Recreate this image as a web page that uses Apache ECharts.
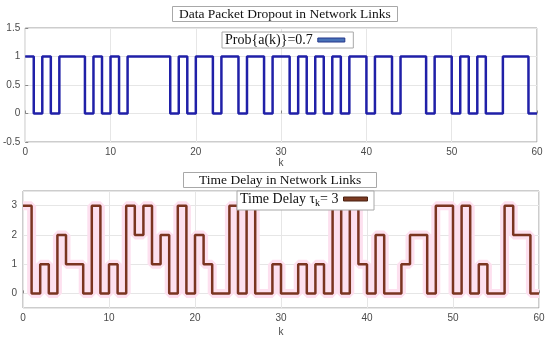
<!DOCTYPE html>
<html>
<head>
<meta charset="utf-8">
<script src="https://cdn.jsdelivr.net/npm/echarts@6/dist/echarts.min.js"></script>
<style>
html,body{margin:0;padding:0;background:#fff;}
#chart{width:550px;height:339px;}
</style>
</head>
<body>
<div id="chart"></div>
<script>
// ---- data (k = 0..60, stairs held from k to k+1) ----
const kValues = [0,1,2,3,4,5,6,7,8,9,10,11,12,13,14,15,16,17,18,19,20,21,22,23,24,25,26,27,28,29,30,31,32,33,34,35,36,37,38,39,40,41,42,43,44,45,46,47,48,49,50,51,52,53,54,55,56,57,58,59,60];
const dropout = [1,0,1,0,1,1,1,0,1,0,
                 1,0,1,1,1,1,1,0,1,0,
                 1,1,0,1,1,0,1,1,0,1,
                 1,0,1,0,1,0,1,0,1,1,
                 0,1,1,0,1,1,1,0,1,1,
                 0,1,0,1,0,0,1,1,1,0,
                 0];
const delay = [3,0,1,0,2,1,1,0,3,0,
               1,0,3,2,3,1,2,0,3,0,
               2,1,0,0,3,0,3,0,0,1,
               0,0,1,0,1,0,3,0,3,1,
               0,2,0,0,1,2,2,0,3,3,
               0,3,0,1,0,0,3,2,2,0,
               0];
const xTicks = {min: 0, max: 60, interval: 10};
const topTitle = 'Data Packet Dropout in Network Links';
const bottomTitle = 'Time Delay in Network Links';
const topLegend = 'Prob{a(k)}=0.7';

const pairs = (ys) => kValues.map((k, i) => [k, ys[i]]);

const chart = echarts.init(document.getElementById('chart'), null, {renderer: 'canvas'});
const labelStyle = {color: '#4a4a4a', fontSize: 10, fontFamily: 'Liberation Sans, Arial, sans-serif'};
const gridLine = {show: true, lineStyle: {color: '#e6e6e6', width: 1}};
const serif = 'Liberation Serif, Times New Roman, serif';

function xAxis(gi, gap) {
  return {
    type: 'value', gridIndex: gi, min: xTicks.min, max: xTicks.max, interval: xTicks.interval,
    axisLine: {show: false}, axisTick: {show: true, inside: true, length: 3, lineStyle: {color: '#888'}},
    axisLabel: Object.assign({margin: 5}, labelStyle),
    splitLine: gridLine,
    name: 'k', nameLocation: 'middle', nameGap: gap,
    nameTextStyle: {color: '#4a4a4a', fontSize: 10, fontFamily: 'Liberation Sans, Arial, sans-serif'}
  };
}

const option = {
  backgroundColor: '#fff',
  animation: false,
  title: [
    {text: topTitle, left: 172, top: 6, padding: [1, 7, 1, 7], borderWidth: 1, borderColor: '#a8a8a8', backgroundColor: '#fff',
     textStyle: {fontFamily: serif, fontSize: 13.5, fontWeight: 'normal', color: '#111'}},
    {text: bottomTitle, left: 183, top: 172, padding: [1, 16, 1, 16], borderWidth: 1, borderColor: '#a8a8a8', backgroundColor: '#fff',
     textStyle: {fontFamily: serif, fontSize: 13.5, fontWeight: 'normal', color: '#111'}}
  ],
  legend: [
    {data: [{name: 'dropout', icon: 'rect', itemStyle: {color: '#4872b8', borderColor: '#24368a', borderWidth: 1}}],
     left: 222, top: 32, align: 'right', itemWidth: 27, itemHeight: 4, padding: [1, 8, 1, 3],
     borderWidth: 1, borderColor: '#a8a8a8', backgroundColor: '#fff', selectedMode: false,
     formatter: () => topLegend,
     textStyle: {fontFamily: serif, fontSize: 14, color: '#111'}},
    {data: [{name: 'delay', icon: 'rect', itemStyle: {color: '#7a3a22', borderColor: '#4a2010', borderWidth: 1}}],
     left: 237, top: 191, align: 'right', itemWidth: 24, itemHeight: 4, padding: [1, 6, 2, 3],
     borderWidth: 1, borderColor: '#a8a8a8', backgroundColor: '#fff', selectedMode: false,
     formatter: () => 'Time Delay τ{s|k}= 3',
     textStyle: {fontFamily: serif, fontSize: 14, color: '#111',
       rich: {s: {fontFamily: serif, fontSize: 10, color: '#111', padding: [8, 0, 0, 0]}}}}
  ],
  grid: [
    {left: 24, right: 13, top: 28, height: 114, show: true, borderColor: '#9a9a9a', borderWidth: 1, backgroundColor: 'transparent'},
    {left: 23, right: 11, top: 191, height: 117, show: true, borderColor: '#9a9a9a', borderWidth: 1, backgroundColor: 'transparent'}
  ],
  xAxis: [xAxis(0, 16), xAxis(1, 19)],
  yAxis: [
    {type: 'value', gridIndex: 0, min: -0.5, max: 1.5, interval: 0.5,
     axisLine: {show: false}, axisTick: {show: true, inside: true, length: 3, lineStyle: {color: '#888'}},
     axisLabel: Object.assign({margin: 5}, labelStyle), splitLine: gridLine},
    {type: 'value', gridIndex: 1, min: -0.5, max: 3.5, splitNumber: 4,
     axisLine: {show: false}, axisTick: {show: false},
     axisLabel: Object.assign({margin: 6, formatter: (v) => Number.isInteger(v) ? String(v) : ''}, labelStyle),
     splitLine: gridLine}
  ],
  series: [
    {name: 'dropout', type: 'line', xAxisIndex: 0, yAxisIndex: 0, step: 'end', data: pairs(dropout),
     showSymbol: false, symbol: 'none', lineStyle: {color: '#2020a8', width: 2.5}, itemStyle: {color: '#2020a8'}, z: 3},
    {name: 'delayHalo', type: 'line', xAxisIndex: 1, yAxisIndex: 1, step: 'end', data: pairs(delay),
     showSymbol: false, symbol: 'none', silent: true, lineStyle: {color: '#fde0ef', width: 9}, z: 2},
    {name: 'delay', type: 'line', xAxisIndex: 1, yAxisIndex: 1, step: 'end', data: pairs(delay),
     showSymbol: false, symbol: 'none', lineStyle: {color: '#7a3420', width: 2.5}, itemStyle: {color: '#7a3420'}, z: 3}
  ]
};
chart.setOption(option);
</script>
</body>
</html>
